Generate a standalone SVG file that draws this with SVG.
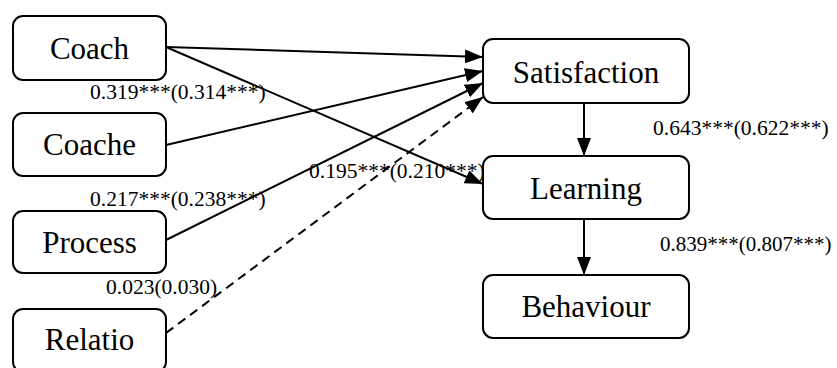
<svg xmlns="http://www.w3.org/2000/svg" width="837" height="368" viewBox="0 0 837 368">
<style>
.box{fill:#fff;stroke:#000;stroke-width:2}
.nt{font-size:31px;text-anchor:middle;fill:#000}
.lb{font-size:21.5px;fill:#000}
.ln{stroke:#000;stroke-width:2;fill:none;marker-end:url(#ah)}
.dash{stroke-dasharray:9 6}
</style>
<defs>
<marker id="ah" markerUnits="userSpaceOnUse" markerWidth="18" markerHeight="14" refX="18" refY="7" orient="auto">
<path d="M0,0 L18,7 L0,14 z" fill="#000"/>
</marker>
</defs>
<g id="connectors">
<line class="ln" x1="166" y1="47" x2="483" y2="57"/>
<line class="ln" x1="166" y1="47" x2="483" y2="184"/>
<line class="ln" x1="166" y1="145" x2="483" y2="71"/>
<line class="ln" x1="166" y1="240" x2="483" y2="83"/>
<line class="ln dash" x1="166" y1="333" x2="483" y2="97"/>
<line class="ln" x1="584" y1="103" x2="584" y2="156"/>
<line class="ln" x1="584" y1="219" x2="584" y2="275"/>
</g>
<g id="labels" font-family="Liberation Serif, DejaVu Serif, serif">
<text class="lb" x="90" y="99">0.319***(0.314***)</text>
<text class="lb" x="90" y="206">0.217***(0.238***)</text>
<text class="lb" x="106" y="294">0.023(0.030)</text>
<text class="lb" x="309" y="178">0.195***(0.210***)</text>
<text class="lb" x="653" y="135">0.643***(0.622***)</text>
<text class="lb" x="660" y="251" style="font-size:21px">0.839***(0.807***)</text>
</g>
<g font-family="Liberation Serif, DejaVu Serif, serif">
<g id="coach"><rect class="box" x="13" y="16" width="153" height="64" rx="10"/><text class="nt" x="89.5" y="59">Coach</text></g>
<g id="coache"><rect class="box" x="13" y="113" width="153" height="63" rx="10"/><text class="nt" x="89.5" y="155">Coache</text></g>
<g id="process"><rect class="box" x="13" y="211" width="153" height="62" rx="10"/><text class="nt" x="89.5" y="253">Process</text></g>
<g id="relatio"><rect class="box" x="13" y="309" width="153" height="63" rx="10"/><text class="nt" x="89.5" y="350">Relatio</text></g>
<g id="satisfaction"><rect class="box" x="483" y="39" width="206" height="64" rx="10"/><text class="nt" x="586" y="83">Satisfaction</text></g>
<g id="learning"><rect class="box" x="483" y="156" width="206" height="63" rx="10"/><text class="nt" x="586" y="199">Learning</text></g>
<g id="behaviour"><rect class="box" x="483" y="275" width="206" height="63" rx="10"/><text class="nt" x="586" y="317">Behaviour</text></g>
</g>
</svg>
